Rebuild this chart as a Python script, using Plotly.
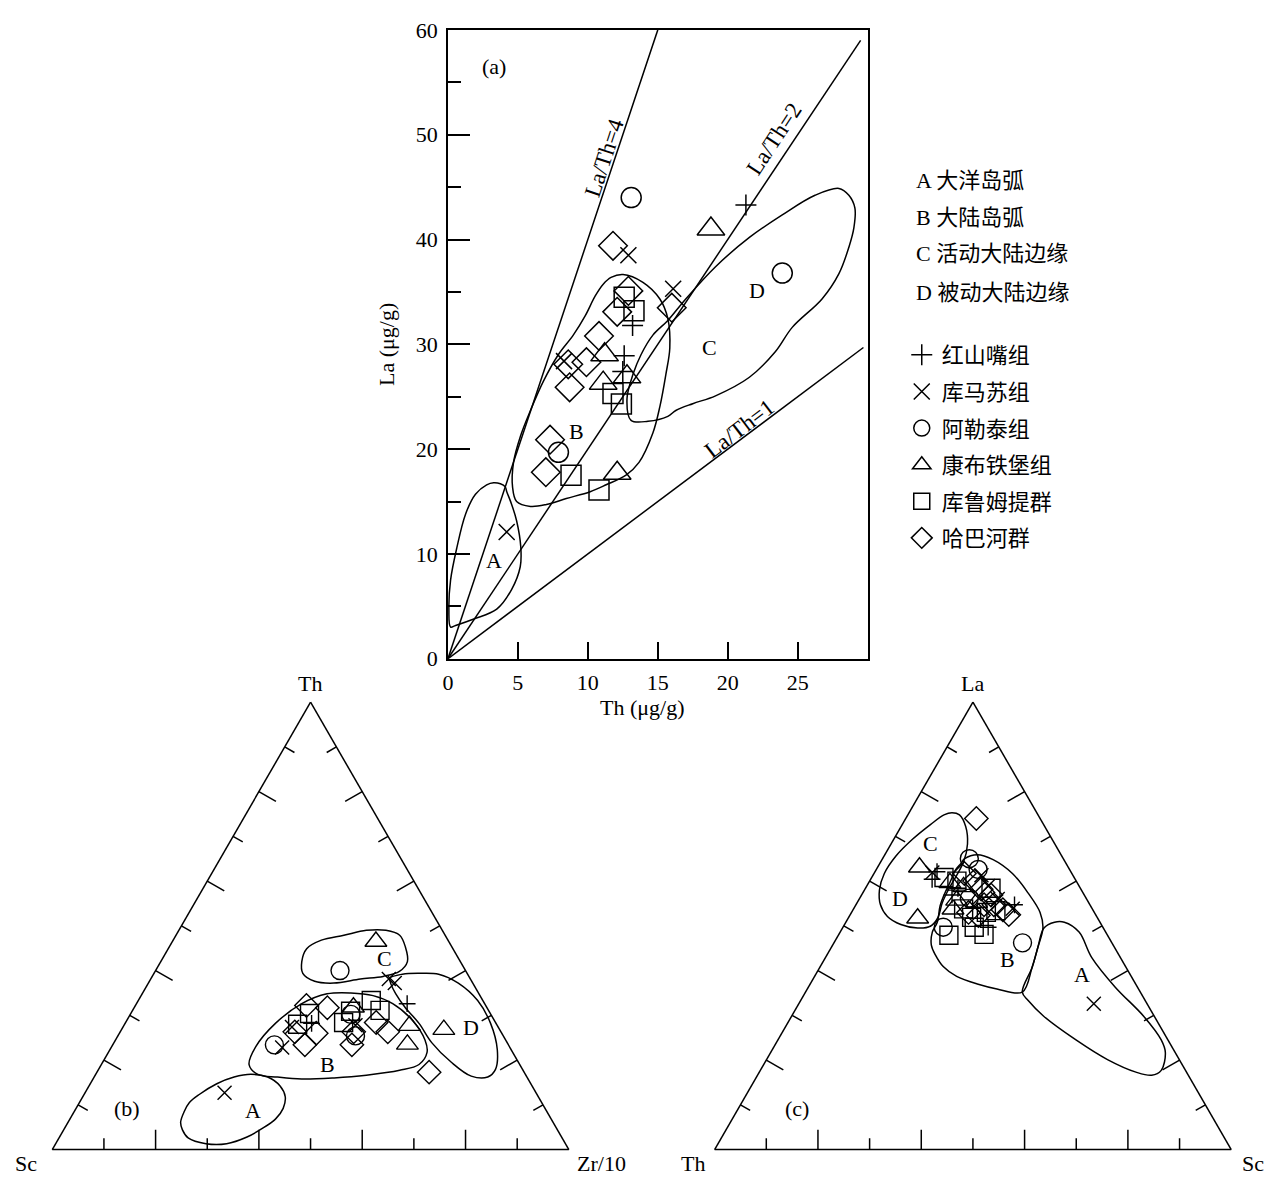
import plotly.graph_objects as go

W, H = 1274, 1187
FONT = "Liberation Serif, Noto Sans CJK SC, serif"
BLK = "black"

# ---------------- groups / legend ----------------
group_names = ["红山嘴组", "库马苏组", "阿勒泰组", "康布铁堡组", "库鲁姆提群", "哈巴河群"]
group_symbols = ["cross-thin-open", "x-thin-open", "circle-open", "triangle-up-open", "square-open", "diamond-open"]
size_a = [15, 16, 20, 24, 20, 22]
size_t = [12, 14, 18, 19, 18, 18]
field_names = ["A 大洋岛弧", "B 大陆岛弧", "C 活动大陆边缘", "D 被动大陆边缘"]

# ---------------- (a) La-Th data ----------------
hsz_th = [21.3, 13.2, 12.6, 12.5]
hsz_la = [43.3, 31.8, 28.9, 27.4]
kms_th = [12.9, 16.1, 8.3, 4.2]
kms_la = [38.5, 35.3, 28.4, 12.1]
alt_th = [13.1, 23.9, 7.9]
alt_la = [44.0, 36.8, 19.7]
kbt_th = [18.8, 11.2, 12.8, 11.1, 12.1]
kbt_la = [41.0, 29.0, 26.9, 26.3, 17.7]
klm_th = [12.6, 13.3, 11.8, 12.4, 8.8, 10.8]
klm_la = [34.5, 33.2, 25.3, 24.3, 17.5, 16.1]
hbh_th = [11.8, 12.9, 12.1, 16.0, 10.8, 9.9, 8.6, 8.7, 7.3, 7.0]
hbh_la = [39.4, 35.1, 33.1, 33.5, 30.8, 28.3, 28.1, 25.9, 20.9, 17.8]

# La/Th reference lines (ratio, end Th)
ratio_vals = [4, 2, 1]
ratio_end_th = [15.0, 29.5, 29.7]

# fields in (a)
fa_A_th = [0.19, 0.55, 1.85, 3.49, 4.55, 5.17, 5.21, 4.91, 4.55, 4.2, 4.1, 3.75, 3.27, 2.77, 1.97, 1.26, 0.64, 0.19, 0.07]
fa_A_la = [3.03, 3.18, 3.8, 4.73, 6.6, 8.78, 10.65, 13.17, 14.75, 15.97, 16.4, 16.7, 16.8, 16.6, 15.7, 13.8, 10.6, 7.5, 4.7]
fa_B_th = [12.52, 13.94, 15.15, 15.72, 15.86, 15.58, 15.15, 14.65, 13.66, 12.73, 11.31, 10.17, 8.46, 7.04, 5.9, 4.91,
           4.62, 4.69, 5.19, 5.9, 6.83, 7.89, 8.96, 9.82, 10.53, 11.1, 11.66]
fa_B_la = [36.67, 35.92, 34.33, 32.46, 29.66, 27.14, 24.06, 21.54, 18.74, 17.53, 16.6, 15.94, 15.29, 14.72, 14.54, 15.0,
           16.4, 18.74, 21.26, 23.69, 26.49, 29.01, 30.88, 32.74, 34.62, 35.74, 36.39]
fa_C_th = [13.09, 14.3, 15.72, 16.29, 17.5, 19.13, 21.55, 23.4, 24.61, 26.74, 27.95, 28.66, 29.02, 29.09, 28.66, 27.95,
           26.24, 23.9, 21.55, 19.13, 17.0, 15.72, 14.65, 13.8, 13.23, 12.8]
fa_C_la = [22.75, 22.66, 23.13, 23.69, 24.34, 25.09, 26.86, 29.29, 31.62, 34.33, 36.75, 39.27, 41.14, 43.01, 44.22, 44.88,
           44.22, 42.35, 40.2, 37.41, 34.33, 32.28, 30.88, 29.01, 27.14, 24.81]

# ---------------- (b) Th - Sc - Zr/10 ----------------
fb_C_th = [42.0, 44.9, 46.8, 47.9, 49.0, 49.0, 47.9, 45.3, 42.0, 39.8, 38.7, 38.1, 37.2, 37.6, 39.4]
fb_C_sc = [30.7, 28.3, 24.5, 19.6, 14.7, 10.9, 8.8, 9.0, 10.25, 12.9, 16.6, 21.3, 26.9, 30.4, 31.8]
fb_C_zr = [27.3, 26.8, 28.7, 32.5, 36.3, 40.1, 43.3, 45.7, 47.75, 47.3, 44.7, 40.6, 35.9, 32.0, 28.8]
fb_D_th = [38.3, 39.2, 39.4, 39.2, 37.2, 33.3, 28.2, 22.3, 17.9, 16.2, 16.4, 19.5, 23.9, 28.2, 31.7, 34.8, 37.2]
fb_D_sc = [15.5, 12.6, 9.3, 5.6, 2.8, 1.0, 1.05, 2.7, 5.25, 7.6, 10.7, 13.0, 14.6, 14.9, 15.8, 16.1, 15.9]
fb_D_zr = [46.2, 48.2, 51.3, 55.2, 60.0, 65.7, 70.75, 75.0, 76.85, 76.2, 72.9, 67.5, 61.5, 56.9, 52.5, 49.1, 46.9]
fb_B_th = [19.0, 23.0, 28.2, 32.6, 34.8, 35.0, 34.4, 32.6, 28.9, 24.5, 21.7, 19.0, 17.7, 16.6, 16.0, 15.75, 16.2, 16.8]
fb_B_sc = [52.4, 49.1, 42.7, 35.4, 29.4, 24.7, 20.7, 17.8, 15.85, 15.6, 16.6, 19.5, 23.9, 30.9, 37.45, 43.85, 48.3, 51.8]
fb_B_zr = [28.6, 27.9, 29.1, 32.0, 35.8, 40.3, 44.9, 49.6, 55.25, 59.9, 61.7, 61.5, 58.4, 52.5, 46.55, 40.4, 35.5, 31.4]
fb_A_th = [8.5, 6.1, 4.4, 2.6, 1.3, 1.3, 2.8, 4.6, 6.8, 9.2, 11.8, 14.2, 16.2, 16.8, 16.2, 14.7, 12.3, 10.5]
fb_A_sc = [70.2, 72.1, 72.6, 72.4, 69.6, 65.6, 60.9, 57.2, 53.4, 50.7, 49.0, 48.8, 50.2, 53.15, 56.7, 60.8, 65.4, 68.2]
fb_A_zr = [21.3, 21.8, 23.0, 25.0, 29.1, 33.1, 36.3, 38.2, 39.8, 40.1, 39.2, 37.0, 33.6, 30.05, 27.1, 24.5, 22.3, 21.3]

b_hsz_th = [32.6, 28.2]
b_hsz_sc = [15.0, 35.7]
b_hsz_zr = [52.4, 36.1]
b_kms_th = [38.1, 37.2, 22.8, 12.7, 27.4, 27.8]
b_kms_sc = [15.8, 15.1, 44.1, 60.3, 39.9, 27.4]
b_kms_zr = [46.1, 47.7, 33.1, 27.0, 32.7, 44.8]
b_alt_th = [40.0, 23.4, 30.2, 25.4]
b_alt_sc = [24.3, 45.3, 27.1, 28.6]
b_alt_zr = [35.7, 31.3, 42.7, 46.0]
b_kbt_th = [46.5, 27.7, 23.5, 26.8, 31.8]
b_kbt_sc = [14.1, 17.0, 19.5, 10.8, 25.8]
b_kbt_zr = [39.4, 55.3, 57.0, 62.4, 42.4]
b_klm_th = [28.0, 30.4, 28.4, 30.9, 33.3, 31.1]
b_klm_sc = [38.5, 35.0, 29.4, 26.8, 21.6, 21.0]
b_klm_zr = [33.5, 34.6, 42.2, 42.3, 45.1, 47.9]
b_hbh_th = [32.2, 31.7, 26.3, 23.4, 26.0, 23.4, 26.3, 28.4, 26.3, 17.3]
b_hbh_sc = [34.7, 30.9, 39.9, 39.4, 35.9, 30.3, 28.5, 23.1, 21.9, 18.4]
b_hbh_zr = [33.1, 37.4, 33.8, 37.2, 38.1, 46.3, 45.2, 48.5, 51.8, 64.3]

# ---------------- (c) La - Th - Sc ----------------
fc_CD_la = [75.3, 74.8, 72.2, 68.3, 64.3, 61.3, 58.4, 55.1, 51.9, 49.9, 49.5, 50.3, 52.1, 54.7, 58.0, 61.7, 65.6, 69.4, 72.6, 74.8]
fc_CD_th = [16.4, 15.2, 15.3, 16.9, 19.65, 22.5, 25.4, 28.4, 30.8, 33.3, 35.95, 38.8, 40.5, 40.55, 39.1, 36.3, 32.1, 26.95, 21.9, 18.2]
fc_CD_sc = [8.3, 10.0, 12.5, 14.8, 16.05, 16.2, 16.2, 16.5, 17.3, 16.8, 14.55, 10.9, 7.4, 4.75, 2.9, 2.0, 2.3, 3.65, 5.46, 7.0]
fc_B_la = [65.0, 65.9, 64.8, 61.7, 57.3, 53.0, 49.5, 45.1, 40.7, 35.2, 35.9, 37.0, 38.7, 40.9, 43.5, 45.7, 48.6, 50.8, 54.5, 56.9, 59.7, 62.6, 63.9]
fc_B_th = [19.1, 16.2, 13.7, 11.5, 10.65, 10.5, 11.7, 14.9, 18.2, 22.84, 27.4, 30.65, 33.8, 35.3, 35.5, 35.2, 33.56, 31.5, 29.1, 27.14, 24.6, 22.0, 20.4]
fc_B_sc = [15.9, 17.9, 21.5, 26.8, 32.05, 36.5, 38.8, 40.0, 41.1, 41.96, 36.7, 32.35, 27.5, 23.8, 20.96, 19.1, 17.84, 17.7, 16.4, 15.96, 15.7, 15.4, 15.7]
fc_A_la = [50.8, 48.6, 42.9, 36.3, 29.8, 24.5, 21.7, 17.7, 16.6, 17.3, 20.1, 24.5, 29.8, 33.3, 35.2, 40.7, 45.1, 49.5, 50.8]
fc_A_th = [6.9, 5.15, 5.54, 4.3, 2.05, 1.3, 1.9, 4.7, 7.1, 9.8, 13.9, 17.8, 21.4, 22.65, 22.84, 18.2, 14.9, 11.5, 8.8]
fc_A_sc = [42.3, 46.25, 51.56, 59.4, 68.15, 74.2, 76.4, 77.6, 76.3, 72.9, 66.0, 57.7, 48.8, 44.05, 41.96, 41.1, 40.0, 39.0, 40.4]

c_hsz_la = [60.4, 62.1, 56.9, 58.4, 49.7, 54.7]
c_hsz_th = [27.7, 25.9, 25.6, 23.7, 22.2, 14.6]
c_hsz_sc = [11.9, 12.0, 17.5, 17.9, 28.1, 30.7]
c_kms_la = [61.9, 61.3, 58.9, 56.0, 53.8, 32.6]
c_kms_th = [26.9, 17.7, 17.6, 17.2, 15.4, 10.3]
c_kms_sc = [11.2, 21.0, 23.5, 26.8, 30.8, 57.1]
c_alt_la = [65.0, 62.6, 46.2, 49.7, 56.2]
c_alt_th = [18.2, 17.7, 17.3, 30.9, 22.6]
c_alt_sc = [16.8, 19.7, 36.5, 19.4, 21.2]
c_kbt_la = [63.1, 51.7, 59.6, 55.7, 53.7, 58.7, 55.2]
c_kbt_th = [28.8, 34.85, 24.65, 25.3, 27.0, 22.45, 21.7]
c_kbt_sc = [8.1, 13.45, 15.75, 19.0, 19.3, 18.85, 23.1]
c_klm_la = [60.8, 60.0, 53.8, 51.9, 53.0, 53.4, 58.4, 47.9, 49.7, 48.1]
c_klm_th = [25.2, 23.1, 24.9, 24.3, 20.9, 18.85, 17.3, 30.7, 24.9, 23.8]
c_klm_sc = [14.0, 16.9, 21.3, 23.8, 26.1, 27.75, 24.3, 21.4, 25.4, 28.1]
c_hbh_la = [74.0, 61.7, 60.0, 58.2, 56.9, 53.0, 52.3, 54.7, 53.6, 52.5, 54.7]
c_hbh_th = [12.34, 20.8, 19.7, 19.3, 18.05, 24.35, 22.8, 18.6, 17.4, 16.8, 20.5]
c_hbh_sc = [13.66, 17.5, 20.3, 22.5, 25.05, 22.65, 24.9, 26.7, 29.0, 30.7, 24.8]

# ternary tick marks (percent positions along each side; length in % of triangle height)
tern_tick_vals = [10, 20, 30, 40, 50, 60, 70, 80, 90]
tern_tick_lens = [2.5, 4.4, 2.5, 4.4, 2.5, 4.4, 2.5, 4.4, 2.5]

# ---------------- build figure ----------------
fig = go.Figure()


def closed(v):
    return list(v) + [v[0]]


line_style = dict(color=BLK, width=1.5, shape="spline", smoothing=1.0)

# (a) fields
for fx, fy in [(fa_A_th, fa_A_la), (fa_B_th, fa_B_la), (fa_C_th, fa_C_la)]:
    fig.add_trace(go.Scatter(x=closed(fx), y=closed(fy), mode="lines", line=line_style,
                             showlegend=False, hoverinfo="skip", xaxis="x", yaxis="y"))

# (a) ratio lines
for r, xe in zip(ratio_vals, ratio_end_th):
    fig.add_trace(go.Scatter(x=[0, xe], y=[0, r * xe], mode="lines",
                             line=dict(color=BLK, width=1.5), showlegend=False,
                             hoverinfo="skip", xaxis="x", yaxis="y"))

a_groups = [(hsz_th, hsz_la), (kms_th, kms_la), (alt_th, alt_la),
            (kbt_th, kbt_la), (klm_th, klm_la), (hbh_th, hbh_la)]
for i, (gx, gy) in enumerate(a_groups):
    fig.add_trace(go.Scatter(
        x=gx, y=gy, mode="markers", name=group_names[i], legendgroup=group_names[i],
        marker=dict(symbol=group_symbols[i], size=size_a[i], color=BLK,
                    line=dict(color=BLK, width=1.5)),
        xaxis="x", yaxis="y"))


def tick_trace(subplot):
    ta, tb, tc = [], [], []
    for v, L in zip(tern_tick_vals, tern_tick_lens):
        # left side (c = 0), perpendicular inward
        ta += [v, v - L / 2, None]
        tb += [100 - v, 100 - v - L / 2, None]
        tc += [0, L, None]
        # bottom side (a = 0)
        ta += [0, L, None]
        tb += [100 - v, 100 - v - L / 2, None]
        tc += [v, v - L / 2, None]
        # right side (b = 0)
        ta += [v, v - L / 2, None]
        tb += [0, L, None]
        tc += [100 - v, 100 - v - L / 2, None]
    return go.Scatterternary(a=ta, b=tb, c=tc, mode="lines", line=dict(color=BLK, width=1.5),
                             connectgaps=False, showlegend=False, hoverinfo="skip", subplot=subplot)


# (b) ternary
fig.add_trace(tick_trace("ternary"))
for fa, fb, fc in [(fb_C_th, fb_C_sc, fb_C_zr), (fb_D_th, fb_D_sc, fb_D_zr),
                   (fb_B_th, fb_B_sc, fb_B_zr), (fb_A_th, fb_A_sc, fb_A_zr)]:
    fig.add_trace(go.Scatterternary(a=closed(fa), b=closed(fb), c=closed(fc), mode="lines",
                                    line=line_style, showlegend=False, hoverinfo="skip",
                                    subplot="ternary"))
b_groups = [(b_hsz_th, b_hsz_sc, b_hsz_zr), (b_kms_th, b_kms_sc, b_kms_zr),
            (b_alt_th, b_alt_sc, b_alt_zr), (b_kbt_th, b_kbt_sc, b_kbt_zr),
            (b_klm_th, b_klm_sc, b_klm_zr), (b_hbh_th, b_hbh_sc, b_hbh_zr)]
for i, (ga, gb, gc) in enumerate(b_groups):
    fig.add_trace(go.Scatterternary(
        a=ga, b=gb, c=gc, mode="markers", name=group_names[i], legendgroup=group_names[i],
        showlegend=False,
        marker=dict(symbol=group_symbols[i], size=size_t[i], color=BLK,
                    line=dict(color=BLK, width=1.4)),
        subplot="ternary"))

# (c) ternary
fig.add_trace(tick_trace("ternary2"))
for fa, fb, fc in [(fc_CD_la, fc_CD_th, fc_CD_sc), (fc_B_la, fc_B_th, fc_B_sc),
                   (fc_A_la, fc_A_th, fc_A_sc)]:
    fig.add_trace(go.Scatterternary(a=closed(fa), b=closed(fb), c=closed(fc), mode="lines",
                                    line=line_style, showlegend=False, hoverinfo="skip",
                                    subplot="ternary2"))
c_groups = [(c_hsz_la, c_hsz_th, c_hsz_sc), (c_kms_la, c_kms_th, c_kms_sc),
            (c_alt_la, c_alt_th, c_alt_sc), (c_kbt_la, c_kbt_th, c_kbt_sc),
            (c_klm_la, c_klm_th, c_klm_sc), (c_hbh_la, c_hbh_th, c_hbh_sc)]
for i, (ga, gb, gc) in enumerate(c_groups):
    fig.add_trace(go.Scatterternary(
        a=ga, b=gb, c=gc, mode="markers", name=group_names[i], legendgroup=group_names[i],
        showlegend=False,
        marker=dict(symbol=group_symbols[i], size=size_t[i], color=BLK,
                    line=dict(color=BLK, width=1.4)),
        subplot="ternary2"))


def px_x(v):
    return v / W


def px_y(v):
    return 1 - v / H


def tern(xd):
    ax = dict(showline=True, linecolor=BLK, linewidth=1.5, showgrid=False,
              showticklabels=False, ticks="", title=dict(text=""))
    return dict(domain=dict(x=xd, y=[px_y(1162), px_y(705)]), sum=100,
                bgcolor="rgba(0,0,0,0)", aaxis=ax, baxis=ax, caxis=ax)


xb = [px_x(42), px_x(570)]
xc = [px_x(707.5), px_x(1235.5)]

FS = 22
txt = dict(family=FONT, size=FS, color=BLK)
ann = []


def pann(t, x, y, **kw):
    d = dict(x=px_x(x), y=px_y(y), xref="paper", yref="paper", text=t, showarrow=False,
             font=txt, xanchor="center", yanchor="middle")
    d.update(kw)
    ann.append(d)


# (a) labels
ann.append(dict(x=3.27, y=56.5, xref="x", yref="y", text="(a)", showarrow=False, font=txt))
for t, x, y in [("A", 3.27, 9.4), ("B", 9.17, 21.7), ("C", 18.7, 29.7), ("D", 22.1, 35.1)]:
    ann.append(dict(x=x, y=y, xref="x", yref="y", text=t, showarrow=False, font=txt))
for t, x, y, ang in [("La/Th=4", 11.2, 47.8, -71.8), ("La/Th=2", 23.36, 49.6, -56.7),
                     ("La/Th=1", 20.87, 22.0, -37.3)]:
    ann.append(dict(x=x, y=y, xref="x", yref="y", text=t, showarrow=False,
                    font=dict(family=FONT, size=23, color=BLK), textangle=ang))
pann("Th (μg/g)", 640, 710)
pann("La (μg/g)", 383, 340, textangle=-90)
# field legend
for t, yy in zip(field_names, [172, 210, 247, 287]):
    pann(t, 912, yy, xanchor="left")
# ternary labels
for t, x, y in [("Th", 305, 686), ("Sc", 20, 1176), ("Zr/10", 598, 1176), ("(b)", 122, 1120),
                ("C", 380, 967), ("D", 467, 1037), ("B", 323, 1075), ("A", 248, 1122),
                ("La", 971, 686), ("Th", 690, 1176), ("Sc", 1253, 1176), ("(c)", 795, 1120),
                ("C", 929, 849), ("D", 898, 906), ("B", 1006, 968), ("A", 1081, 983)]:
    pann(t, x, y)

fig.update_layout(
    width=W, height=H, margin=dict(l=0, r=0, t=0, b=0),
    paper_bgcolor="white", plot_bgcolor="white",
    font=dict(family=FONT, color=BLK, size=FS),
    xaxis=dict(domain=[px_x(444), px_x(865.7)], range=[0, 30], showline=True, mirror=True,
               linecolor=BLK, linewidth=1.5, ticks="inside", tickmode="array",
               tickvals=[0, 5, 10, 15, 20, 25], ticklen=17, tickwidth=1.5, tickcolor=BLK,
               showgrid=False, zeroline=False, tickfont=txt, anchor="y", ticklabelstandoff=3),
    yaxis=dict(domain=[px_y(660.7), px_y(18.3)], range=[0, 60], showline=True, mirror=True,
               linecolor=BLK, linewidth=1.5, ticks="inside", tickmode="linear", tick0=0,
               dtick=10, ticklen=22, tickwidth=1.5, tickcolor=BLK, showgrid=False,
               zeroline=False, tickfont=txt, anchor="x", ticklabelstandoff=4,
               minor=dict(ticks="inside", ticklen=13, dtick=5, tick0=0, tickwidth=1.5,
                          tickcolor=BLK, showgrid=False)),
    ternary=tern(xb), ternary2=tern(xc),
    legend=dict(x=px_x(900), y=px_y(329), xanchor="left", yanchor="top",
                font=dict(family=FONT, size=22, color=BLK), tracegroupgap=5,
                bgcolor="rgba(0,0,0,0)", borderwidth=0, itemsizing="trace"),
    annotations=ann,
)

fig.write_html("out.html")
